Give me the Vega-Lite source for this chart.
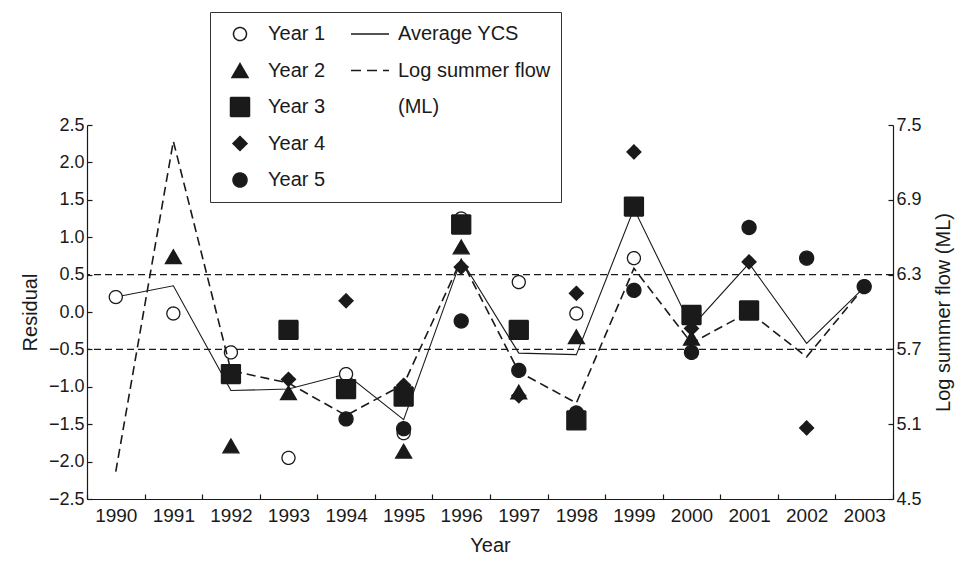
{
  "$schema": "https://vega.github.io/schema/vega-lite/v6.json",
  "width": 806,
  "height": 374,
  "autosize": {"type": "none"},
  "padding": {"left": 87, "top": 125, "right": 68, "bottom": 63},
  "background": "white",
  "config": {
    "view": {"stroke": null},
    "font": "Liberation Sans",
    "axis": {
      "grid": false,
      "labelFont": "Liberation Sans",
      "titleFont": "Liberation Sans",
      "labelColor": "#1a1a1a",
      "titleColor": "#1a1a1a",
      "domainColor": "#1a1a1a",
      "tickColor": "#1a1a1a",
      "titleFontWeight": "normal",
      "domainWidth": 1.2,
      "tickWidth": 1.2
    },
    "legend": {
      "labelFont": "Liberation Sans",
      "title": null,
      "orient": "none",
      "legendX": 123,
      "legendY": -113,
      "columns": 2,
      "direction": "vertical",
      "labelFontSize": 20,
      "labelOffset": 8,
      "labelColor": "#1a1a1a",
      "labelLimit": 300,
      "clipHeight": 24,
      "rowPadding": 12.5,
      "columnPadding": 24,
      "padding": 10,
      "strokeColor": "#333333",
      "fillColor": "white"
    }
  },
  "datasets": {
    "points": [
      {"cohort": "Year 1", "year": 1990, "residual": 0.20},
      {"cohort": "Year 1", "year": 1991, "residual": -0.02},
      {"cohort": "Year 1", "year": 1992, "residual": -0.54},
      {"cohort": "Year 1", "year": 1993, "residual": -1.95},
      {"cohort": "Year 1", "year": 1994, "residual": -0.83},
      {"cohort": "Year 1", "year": 1995, "residual": -1.62},
      {"cohort": "Year 1", "year": 1996, "residual": 1.25},
      {"cohort": "Year 1", "year": 1997, "residual": 0.40},
      {"cohort": "Year 1", "year": 1998, "residual": -0.02},
      {"cohort": "Year 1", "year": 1999, "residual": 0.72},
      {"cohort": "Year 2", "year": 1991, "residual": 0.74},
      {"cohort": "Year 2", "year": 1992, "residual": -1.79},
      {"cohort": "Year 2", "year": 1993, "residual": -1.08},
      {"cohort": "Year 2", "year": 1994, "residual": -1.01},
      {"cohort": "Year 2", "year": 1995, "residual": -1.86},
      {"cohort": "Year 2", "year": 1996, "residual": 0.87},
      {"cohort": "Year 2", "year": 1997, "residual": -1.07},
      {"cohort": "Year 2", "year": 1998, "residual": -0.33},
      {"cohort": "Year 2", "year": 2000, "residual": -0.35},
      {"cohort": "Year 3", "year": 1992, "residual": -0.83},
      {"cohort": "Year 3", "year": 1993, "residual": -0.24},
      {"cohort": "Year 3", "year": 1994, "residual": -1.03},
      {"cohort": "Year 3", "year": 1995, "residual": -1.13},
      {"cohort": "Year 3", "year": 1996, "residual": 1.17},
      {"cohort": "Year 3", "year": 1997, "residual": -0.24},
      {"cohort": "Year 3", "year": 1998, "residual": -1.45},
      {"cohort": "Year 3", "year": 1999, "residual": 1.41},
      {"cohort": "Year 3", "year": 2000, "residual": -0.04},
      {"cohort": "Year 3", "year": 2001, "residual": 0.02},
      {"cohort": "Year 4", "year": 1993, "residual": -0.90},
      {"cohort": "Year 4", "year": 1994, "residual": 0.15},
      {"cohort": "Year 4", "year": 1995, "residual": -0.98},
      {"cohort": "Year 4", "year": 1996, "residual": 0.60},
      {"cohort": "Year 4", "year": 1997, "residual": -1.12},
      {"cohort": "Year 4", "year": 1998, "residual": 0.25},
      {"cohort": "Year 4", "year": 1999, "residual": 2.14},
      {"cohort": "Year 4", "year": 2000, "residual": -0.22},
      {"cohort": "Year 4", "year": 2001, "residual": 0.67},
      {"cohort": "Year 4", "year": 2002, "residual": -1.55},
      {"cohort": "Year 5", "year": 1994, "residual": -1.43},
      {"cohort": "Year 5", "year": 1995, "residual": -1.56},
      {"cohort": "Year 5", "year": 1996, "residual": -0.12},
      {"cohort": "Year 5", "year": 1997, "residual": -0.78},
      {"cohort": "Year 5", "year": 1998, "residual": -1.35},
      {"cohort": "Year 5", "year": 1999, "residual": 0.29},
      {"cohort": "Year 5", "year": 2000, "residual": -0.54},
      {"cohort": "Year 5", "year": 2001, "residual": 1.13},
      {"cohort": "Year 5", "year": 2002, "residual": 0.72},
      {"cohort": "Year 5", "year": 2003, "residual": 0.34}
    ],
    "avg": [
      {"year": 1990, "residual": 0.20},
      {"year": 1991, "residual": 0.35},
      {"year": 1992, "residual": -1.05},
      {"year": 1993, "residual": -1.03},
      {"year": 1994, "residual": -0.83},
      {"year": 1995, "residual": -1.44},
      {"year": 1996, "residual": 0.70},
      {"year": 1997, "residual": -0.55},
      {"year": 1998, "residual": -0.57},
      {"year": 1999, "residual": 1.38},
      {"year": 2000, "residual": -0.20},
      {"year": 2001, "residual": 0.65},
      {"year": 2002, "residual": -0.42},
      {"year": 2003, "residual": 0.33}
    ],
    "flow": [
      {"year": 1990, "flow": 4.72},
      {"year": 1991, "flow": 7.37},
      {"year": 1992, "flow": 5.53},
      {"year": 1993, "flow": 5.43},
      {"year": 1994, "flow": 5.17},
      {"year": 1995, "flow": 5.42},
      {"year": 1996, "flow": 6.42},
      {"year": 1997, "flow": 5.52},
      {"year": 1998, "flow": 5.27},
      {"year": 1999, "flow": 6.35},
      {"year": 2000, "flow": 5.75},
      {"year": 2001, "flow": 6.00},
      {"year": 2002, "flow": 5.64},
      {"year": 2003, "flow": 6.20}
    ],
    "refs": [{"residual": 0.5}, {"residual": -0.5}]
  },
  "layer": [
    {
      "encoding": {
        "y": {
          "field": "residual",
          "type": "quantitative",
          "scale": {"domain": [-2.5, 2.5], "nice": false, "zero": false},
          "axis": {
            "title": "Residual",
            "values": [-2.5, -2, -1.5, -1, -0.5, 0, 0.5, 1, 1.5, 2, 2.5],
            "format": ".1f",
            "labelFontSize": 18,
            "titleFontSize": 20,
            "tickSize": -5,
            "labelPadding": 8,
            "titlePadding": 8
          }
        }
      },
      "layer": [
        {
          "data": {"name": "refs"},
          "mark": {"type": "rule", "strokeDash": [7, 4], "strokeWidth": 1.3, "color": "#1a1a1a"},
          "encoding": {}
        },
        {
          "data": {"name": "avg"},
          "mark": {"type": "line", "color": "#1a1a1a", "strokeWidth": 1.1},
          "encoding": {
            "x": {
              "field": "year", "type": "ordinal",
              "scale": {"type": "band", "paddingInner": 0, "paddingOuter": 0},
              "axis": {"title": "Year", "labelAngle": 0, "tickBand": "extent", "labelFontSize": 19, "titleFontSize": 20, "tickSize": -5, "labelPadding": 12, "titlePadding": 10}
            }
          }
        },
        {
          "data": {"name": "points"},
          "mark": {"type": "point", "filled": true, "stroke": "#1a1a1a", "strokeWidth": 1.3, "opacity": 1, "fillOpacity": 1, "strokeOpacity": 1},
          "encoding": {
            "x": {
              "field": "year", "type": "ordinal",
              "scale": {"type": "band", "paddingInner": 0, "paddingOuter": 0},
              "axis": {"title": "Year", "labelAngle": 0, "tickBand": "extent", "labelFontSize": 19, "titleFontSize": 20, "tickSize": -5, "labelPadding": 12, "titlePadding": 10}
            },
            "shape": {
              "field": "cohort", "type": "nominal",
              "scale": {
                "domain": ["Year 1", "Year 2", "Year 3", "Year 4", "Year 5", "Average YCS", "Log summer flow", "(ML)", " "],
                "range": ["circle", "triangle-up", "square", "diamond", "circle", "stroke", "stroke", "stroke", "stroke"]
              }
            },
            "fill": {
              "field": "cohort", "type": "nominal",
              "scale": {
                "domain": ["Year 1", "Year 2", "Year 3", "Year 4", "Year 5", "Average YCS", "Log summer flow", "(ML)", " "],
                "range": ["white", "#1a1a1a", "#1a1a1a", "#1a1a1a", "#1a1a1a", "transparent", "transparent", "transparent", "transparent"]
              }
            },
            "size": {
              "field": "cohort", "type": "nominal",
              "scale": {
                "type": "ordinal",
                "domain": ["Year 1", "Year 2", "Year 3", "Year 4", "Year 5", "Average YCS", "Log summer flow", "(ML)", " "],
                "range": [169, 256, 361, 196, 196, 1444, 1444, 0, 0]
              }
            },
            "opacity": {
              "field": "cohort", "type": "nominal",
              "scale": {
                "type": "ordinal",
                "domain": ["Year 1", "Year 2", "Year 3", "Year 4", "Year 5", "Average YCS", "Log summer flow", "(ML)", " "],
                "range": [1, 1, 1, 1, 1, 1, 1, 0, 0]
              }
            },
            "strokeDash": {
              "field": "cohort", "type": "nominal",
              "scale": {
                "domain": ["Year 1", "Year 2", "Year 3", "Year 4", "Year 5", "Average YCS", "Log summer flow", "(ML)", " "],
                "range": [[1, 0], [1, 0], [1, 0], [1, 0], [1, 0], [1, 0], [10, 6], [1, 0], [1, 0]]
              }
            }
          }
        }
      ]
    },
    {
      "data": {"name": "flow"},
      "mark": {"type": "line", "color": "#1a1a1a", "strokeDash": [9, 5], "strokeWidth": 1.6},
      "encoding": {
        "x": {
          "field": "year", "type": "ordinal",
          "scale": {"type": "band", "paddingInner": 0, "paddingOuter": 0},
          "axis": {"title": "Year", "labelAngle": 0, "tickBand": "extent", "labelFontSize": 19, "titleFontSize": 20, "tickSize": -5, "labelPadding": 12, "titlePadding": 10}
        },
        "y": {
          "field": "flow",
          "type": "quantitative",
          "scale": {"domain": [4.5, 7.5], "nice": false, "zero": false},
          "axis": {
            "orient": "right",
            "title": "Log summer flow (ML)",
            "values": [4.5, 5.1, 5.7, 6.3, 6.9, 7.5],
            "format": ".1f",
            "labelFontSize": 18,
            "titleFontSize": 20,
            "titleAngle": 270,
            "titleBaseline": "top",
            "tickSize": -5,
            "labelPadding": 8,
            "titlePadding": 12
          }
        }
      }
    }
  ],
  "resolve": {"scale": {"y": "independent"}}
}
